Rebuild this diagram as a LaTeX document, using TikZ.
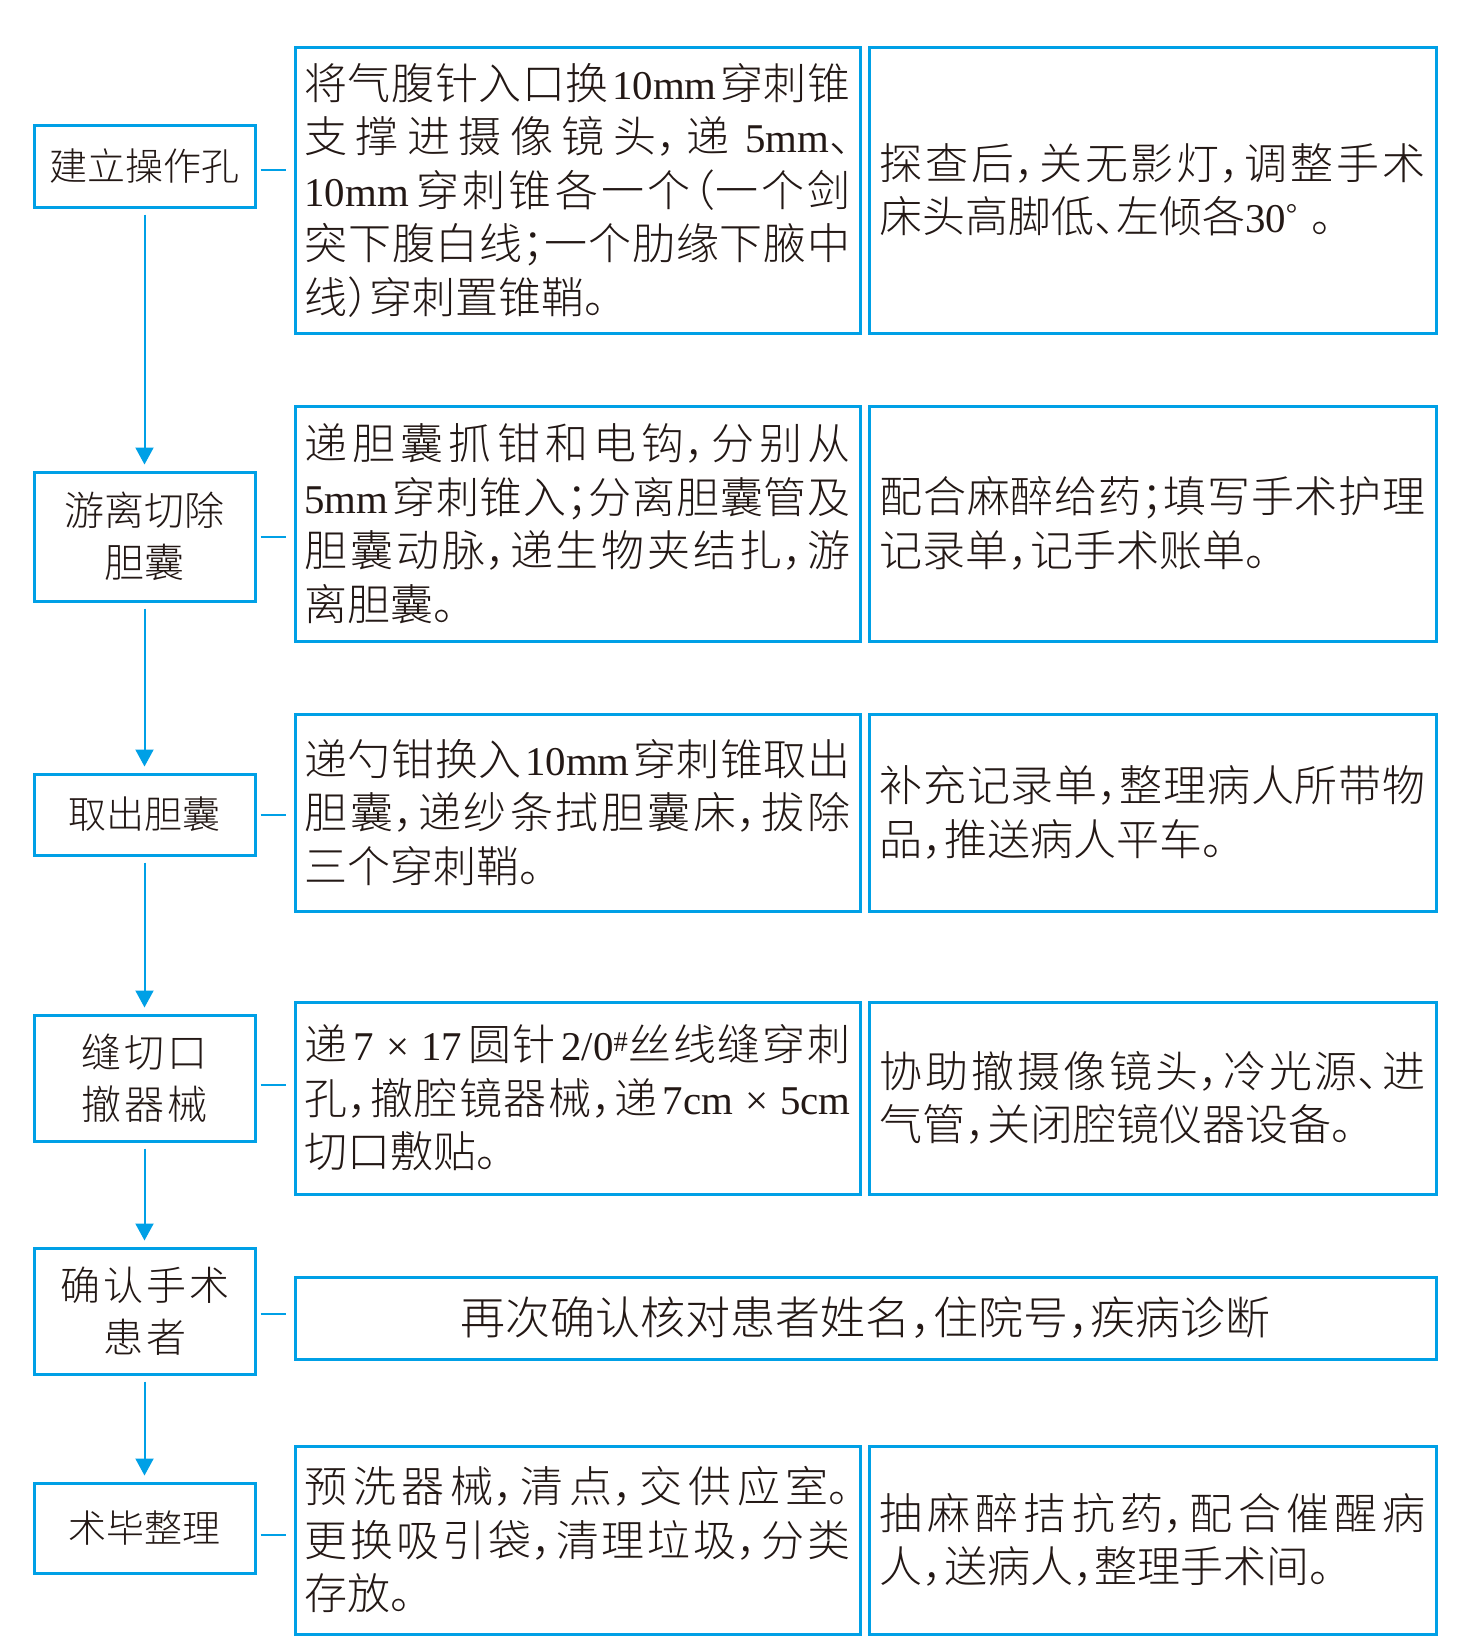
\documentclass[tikz,border=0pt]{standalone}
\usepackage{fontspec}
\setmainfont{Noto Sans CJK SC Light}[RawFeature=+halt]
\newfontfamily\lat{Liberation Serif}[Scale=0.95]
\usetikzlibrary{arrows.meta}
\XeTeXlinebreaklocale "zh"
\XeTeXlinebreakskip=0pt plus 4pt
\tolerance=10000
\hbadness=10000
\parindent=0pt
\newcommand\gap{\hspace{3pt plus 6pt}}
\definecolor{lineblue}{RGB}{0,160,230}
\definecolor{ink}{RGB}{35,24,21}
\tikzset{
  box/.style={draw=lineblue, line width=3pt, text=ink, inner ysep=0pt},
  stepbox/.style={box, minimum width=221pt, inner xsep=0pt, align=center,
    font=\fontsize{40pt}{52.5pt}\selectfont},
  onebox/.style={stepbox, font=\fontsize{38pt}{52.5pt}\selectfont},
  midbox/.style={box, minimum width=565pt, inner xsep=9.5pt, text width=546pt,
    align=justify, font=\fontsize{43pt}{53.5pt}\selectfont},
  rightbox/.style={box, minimum width=567pt, inner xsep=10.5pt, text width=546pt,
    align=justify, font=\fontsize{43pt}{53.5pt}\selectfont},
  arr/.style={draw=lineblue, line width=2pt, shorten <=6pt, shorten >=6pt,
    -{Triangle[width=18pt,length=17pt]}},
  conn/.style={draw=lineblue, line width=2pt, shorten <=4pt, shorten >=8pt}
}
\begin{document}
\begin{tikzpicture}[x=1pt,y=-1pt]
\useasboundingbox (0,0) rectangle (1480,1644);
\fill[white] (0,0) rectangle (1480,1644);

% left step boxes
\node[onebox, minimum height=82pt]   (L1) at (144.5,166)   {建立操作孔};
\node[stepbox, minimum height=129pt] (L2) at (144.5,536.5) {游离切除\\胆囊};
\node[onebox, minimum height=81pt]   (L3) at (144.5,814.5) {取出胆囊};
\node[stepbox, minimum height=126pt] (L4) at (144.5,1078)  {缝\hspace{3pt}切\hspace{3pt}口\\撤\hspace{3pt}器\hspace{3pt}械};
\node[stepbox, minimum height=126pt] (L5) at (144.5,1311)  {确\hspace{3pt}认\hspace{3pt}手\hspace{3pt}术\\患\hspace{3pt}者};
\node[onebox, minimum height=90pt]   (L6) at (144.5,1528)  {术毕整理};

% middle boxes
\node[midbox, minimum height=286pt] (M1) at (577.5,190) {将气腹针入口换\gap{\lat 10mm}\gap 穿刺锥\linebreak 支撑进摄像镜头，递\gap{\lat 5mm}、\linebreak {\lat 10mm}\gap 穿刺锥各一个（一个剑\linebreak 突下腹白线；一个肋缘下腋中\linebreak 线）穿刺置锥鞘。};
\node[midbox, minimum height=235pt] (M2) at (577.5,523.5) {递胆囊抓钳和电钩，分别从\linebreak {\lat 5mm}\gap 穿刺锥入；分离胆囊管及\linebreak 胆囊动脉，递生物夹结扎，游\linebreak 离胆囊。};
\node[midbox, minimum height=197pt] (M3) at (577.5,812.5) {递勺钳换入\gap{\lat 10mm}\gap 穿刺锥取出\linebreak 胆囊，递纱条拭胆囊床，拔除\linebreak 三个穿刺鞘。};
\node[midbox, minimum height=192pt] (M4) at (577.5,1098) {递\gap{\lat 7 × 17}\gap 圆针\gap{\lat 2/0\textsuperscript{\#}}丝线缝穿刺\linebreak 孔，撤腔镜器械，递\gap{\lat 7cm × 5cm}\linebreak 切口敷贴。};
\node[midbox, minimum height=188pt] (M6) at (577.5,1540) {预洗器械，清点，交供应室。\linebreak 更换吸引袋，清理垃圾，分类\linebreak 存放。};

% right boxes
\node[rightbox, minimum height=286pt] (R1) at (1152.5,190) {探查后，关无影灯，调整手术\linebreak 床头高脚低、左倾各{\lat 30\textsuperscript{°}}\hspace{14pt}。};
\node[rightbox, minimum height=235pt] (R2) at (1152.5,523.5) {配合麻醉给药；填写手术护理\linebreak 记录单，记手术账单。};
\node[rightbox, minimum height=197pt] (R3) at (1152.5,812.5) {补充记录单，整理病人所带物\linebreak 品，推送病人平车。};
\node[rightbox, minimum height=192pt] (R4) at (1152.5,1098) {协助撤摄像镜头，冷光源、进\linebreak 气管，关闭腔镜仪器设备。};
\node[rightbox, minimum height=188pt] (R6) at (1152.5,1540) {抽麻醉拮抗药，配合催醒病\linebreak 人，送病人，整理手术间。};

% wide box
\node[box, minimum width=1141pt, minimum height=82pt, inner xsep=0pt,
  font=\fontsize{45pt}{53.5pt}\selectfont] (W5) at (865.5,1318) {再次确认核对患者姓名，住院号，疾病诊断};

% arrows
\draw[arr] (L1) -- (L2);
\draw[arr] (L2) -- (L3);
\draw[arr] (L3) -- (L4);
\draw[arr] (L4) -- (L5);
\draw[arr] (L5) -- (L6);

% connectors
\draw[conn] ([yshift=-4pt]L1.east) -- ([yshift=-4pt]L1.east -| M1.west);
\draw[conn] (L2.east) -- (L2.east -| M2.west);
\draw[conn] (L3.east) -- (L3.east -| M3.west);
\draw[conn] ([yshift=-7pt]L4.east) -- ([yshift=-7pt]L4.east -| M4.west);
\draw[conn] ([yshift=-3pt]L5.east) -- ([yshift=-3pt]L5.east -| W5.west);
\draw[conn] ([yshift=-7pt]L6.east) -- ([yshift=-7pt]L6.east -| M6.west);
\end{tikzpicture}
\end{document}
